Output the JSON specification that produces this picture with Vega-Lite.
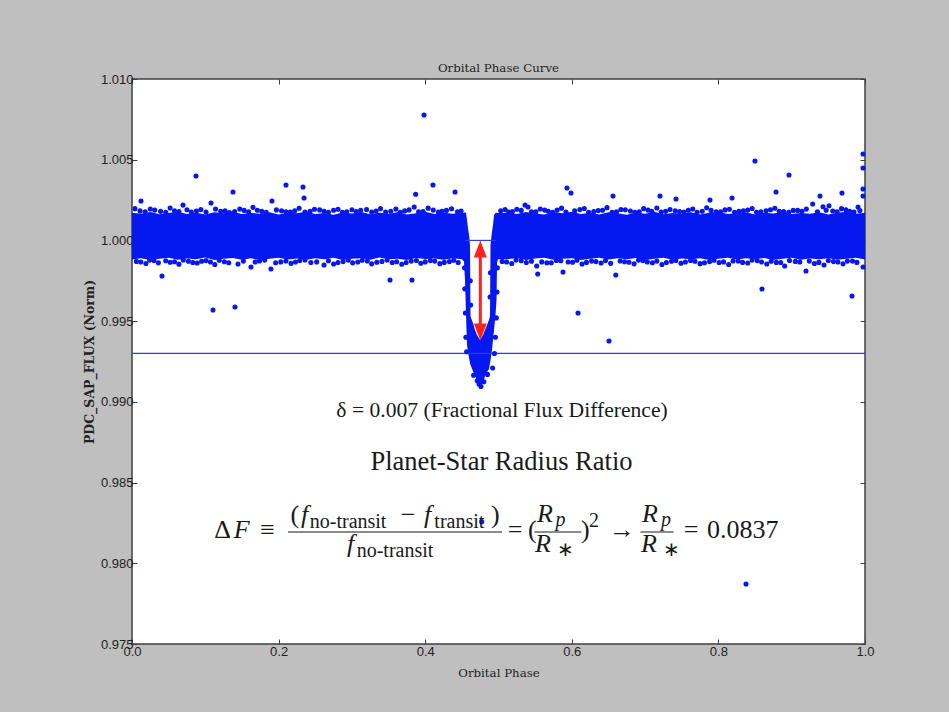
{
  "$schema": "https://vega.github.io/schema/vega-lite/v6.json",
  "width": 733,
  "height": 565,
  "autosize": "none",
  "padding": {"left": 132, "top": 79, "right": 84, "bottom": 68},
  "background": "#bfbfbf",
  "config": {
    "view": {"fill": "white", "stroke": "#404040", "strokeWidth": 1.5},
    "axis": {"grid": false, "domain": false, "labelFlush": false, "labelOverlap": false, "labelBound": false, "tickColor": "#404040", "tickWidth": 1, "labelColor": "#222222", "titleColor": "#222222"}
  },
  "title": {"text": "Orbital Phase Curve", "font": "DejaVu Serif", "fontSize": 11.8, "fontWeight": "normal", "color": "#222222", "offset": -11, "baseline": "alphabetic", "frame": "group"},
  "datasets": {
    "band": [
      {"x": 0.0, "y": 0.99882, "y2": 1.00172}, {"x": 0.0125, "y": 0.9989, "y2": 1.00165}, {"x": 0.025, "y": 0.99878, "y2": 1.00176}, {"x": 0.0375, "y": 0.99886, "y2": 1.00162},
      {"x": 0.05, "y": 0.99892, "y2": 1.0017}, {"x": 0.0625, "y": 0.9988, "y2": 1.00178}, {"x": 0.075, "y": 0.99888, "y2": 1.00164}, {"x": 0.0875, "y": 0.99883, "y2": 1.00171},
      {"x": 0.1, "y": 0.99894, "y2": 1.0016}, {"x": 0.1125, "y": 0.99879, "y2": 1.00174}, {"x": 0.125, "y": 0.99887, "y2": 1.00168}, {"x": 0.1375, "y": 0.99891, "y2": 1.00177},
      {"x": 0.15, "y": 0.99881, "y2": 1.00163}, {"x": 0.1625, "y": 0.99889, "y2": 1.0017}, {"x": 0.175, "y": 0.99877, "y2": 1.00166}, {"x": 0.1875, "y": 0.99886, "y2": 1.00175},
      {"x": 0.2, "y": 0.99893, "y2": 1.00161}, {"x": 0.2125, "y": 0.99882, "y2": 1.00172}, {"x": 0.225, "y": 0.99888, "y2": 1.00169}, {"x": 0.2375, "y": 0.9988, "y2": 1.00178},
      {"x": 0.25, "y": 0.9989, "y2": 1.00164}, {"x": 0.2625, "y": 0.99884, "y2": 1.0017}, {"x": 0.275, "y": 0.99892, "y2": 1.00159}, {"x": 0.2875, "y": 0.99878, "y2": 1.00173},
      {"x": 0.3, "y": 0.99886, "y2": 1.00167}, {"x": 0.3125, "y": 0.99889, "y2": 1.00176}, {"x": 0.325, "y": 0.99881, "y2": 1.00162}, {"x": 0.3375, "y": 0.99894, "y2": 1.00171},
      {"x": 0.35, "y": 0.99883, "y2": 1.00165}, {"x": 0.3625, "y": 0.99887, "y2": 1.00174}, {"x": 0.375, "y": 0.99879, "y2": 1.0016}, {"x": 0.3875, "y": 0.99891, "y2": 1.00169},
      {"x": 0.4, "y": 0.99885, "y2": 1.00177}, {"x": 0.4125, "y": 0.99888, "y2": 1.00163}, {"x": 0.425, "y": 0.9988, "y2": 1.00172}, {"x": 0.4375, "y": 0.9989, "y2": 1.00166},
      {"x": 0.4502, "y": 0.99884, "y2": 1.0017}, {"x": 0.4529, "y": 0.9987, "y2": 1.00172}, {"x": 0.4543, "y": 0.99755, "y2": 1.00175}, {"x": 0.4557, "y": 0.99538, "y2": 1.0017},
      {"x": 0.457, "y": 0.99352, "y2": 1.00127}, {"x": 0.4584, "y": 0.99309, "y2": 1.00077}, {"x": 0.4598, "y": 0.99272, "y2": 1.00034}, {"x": 0.4611, "y": 0.99241, "y2": 0.99972},
      {"x": 0.4618, "y": 0.9923, "y2": 0.9953}, {"x": 0.4625, "y": 0.9922, "y2": 0.99519}, {"x": 0.4652, "y": 0.9919, "y2": 0.99488}, {"x": 0.4679, "y": 0.9916, "y2": 0.99445},
      {"x": 0.4707, "y": 0.99135, "y2": 0.99414}, {"x": 0.4748, "y": 0.99104, "y2": 0.99383}, {"x": 0.4789, "y": 0.99115, "y2": 0.99414}, {"x": 0.4816, "y": 0.9916, "y2": 0.99445},
      {"x": 0.4843, "y": 0.99185, "y2": 0.99476}, {"x": 0.487, "y": 0.99204, "y2": 0.99507}, {"x": 0.4884, "y": 0.99241, "y2": 0.9953}, {"x": 0.4891, "y": 0.9926, "y2": 0.99972},
      {"x": 0.4898, "y": 0.9928, "y2": 1.00003}, {"x": 0.4911, "y": 0.99321, "y2": 1.00052}, {"x": 0.4925, "y": 0.99383, "y2": 1.00096}, {"x": 0.4939, "y": 0.99445, "y2": 1.00158},
      {"x": 0.4959, "y": 0.99538, "y2": 1.0017}, {"x": 0.4973, "y": 0.99631, "y2": 1.00172}, {"x": 0.498, "y": 0.99862, "y2": 1.0017}, {"x": 0.4993, "y": 0.99884, "y2": 1.0017},
      {"x": 0.5125, "y": 0.99884, "y2": 1.00171}, {"x": 0.525, "y": 0.9989, "y2": 1.00163}, {"x": 0.5375, "y": 0.99878, "y2": 1.00176}, {"x": 0.55, "y": 0.99888, "y2": 1.00167},
      {"x": 0.5625, "y": 0.99893, "y2": 1.0016}, {"x": 0.575, "y": 0.99881, "y2": 1.00174}, {"x": 0.5875, "y": 0.99886, "y2": 1.00169}, {"x": 0.6, "y": 0.9989, "y2": 1.00178},
      {"x": 0.6125, "y": 0.99879, "y2": 1.00164}, {"x": 0.625, "y": 0.99887, "y2": 1.00172}, {"x": 0.6375, "y": 0.99892, "y2": 1.00161}, {"x": 0.65, "y": 0.99882, "y2": 1.00175},
      {"x": 0.6625, "y": 0.99889, "y2": 1.00168}, {"x": 0.675, "y": 0.99884, "y2": 1.00159}, {"x": 0.6875, "y": 0.99891, "y2": 1.00173}, {"x": 0.7, "y": 0.99878, "y2": 1.00166},
      {"x": 0.7125, "y": 0.99886, "y2": 1.00177}, {"x": 0.725, "y": 0.99893, "y2": 1.00162}, {"x": 0.7375, "y": 0.99881, "y2": 1.0017}, {"x": 0.75, "y": 0.99888, "y2": 1.00165},
      {"x": 0.7625, "y": 0.99883, "y2": 1.00174}, {"x": 0.775, "y": 0.9989, "y2": 1.0016}, {"x": 0.7875, "y": 0.99879, "y2": 1.00171}, {"x": 0.8, "y": 0.99887, "y2": 1.00178},
      {"x": 0.8125, "y": 0.99892, "y2": 1.00164}, {"x": 0.825, "y": 0.99882, "y2": 1.00169}, {"x": 0.8375, "y": 0.99889, "y2": 1.00175}, {"x": 0.85, "y": 0.99884, "y2": 1.00161},
      {"x": 0.8625, "y": 0.99891, "y2": 1.00172}, {"x": 0.875, "y": 0.99878, "y2": 1.00167}, {"x": 0.8875, "y": 0.99886, "y2": 1.00176}, {"x": 0.9, "y": 0.99893, "y2": 1.00163},
      {"x": 0.9125, "y": 0.99881, "y2": 1.0017}, {"x": 0.925, "y": 0.99888, "y2": 1.00166}, {"x": 0.9375, "y": 0.99883, "y2": 1.00174}, {"x": 0.95, "y": 0.9989, "y2": 1.0016},
      {"x": 0.9625, "y": 0.9988, "y2": 1.00171}, {"x": 0.975, "y": 0.99887, "y2": 1.00177}, {"x": 0.9875, "y": 0.99892, "y2": 1.00165}, {"x": 1.0, "y": 0.99882, "y2": 1.00172}
    ],
    "pts": [
      {"x": 0.3984, "y": 1.00777}, {"x": 0.0873, "y": 1.00399}, {"x": 0.1378, "y": 1.003}, {"x": 0.2101, "y": 1.00343}, {"x": 0.2333, "y": 1.00331}, {"x": 0.2347, "y": 1.00263},
      {"x": 0.4106, "y": 1.00343}, {"x": 0.8499, "y": 1.00492}, {"x": 0.8963, "y": 1.00405}, {"x": 0.9686, "y": 1.00294}, {"x": 0.9973, "y": 1.00535}, {"x": 0.9973, "y": 1.00449},
      {"x": 0.9973, "y": 1.00319}, {"x": 0.9973, "y": 1.00275}, {"x": 0.9823, "y": 0.99656}, {"x": 0.9195, "y": 0.99811}, {"x": 0.1105, "y": 0.99569}, {"x": 0.1405, "y": 0.99588},
      {"x": 0.352, "y": 0.99755}, {"x": 0.382, "y": 0.99755}, {"x": 0.6085, "y": 0.9955}, {"x": 0.6508, "y": 0.99377}, {"x": 0.8595, "y": 0.99699}, {"x": 0.8377, "y": 0.97872},
      {"x": 0.0409, "y": 0.9978}, {"x": 0.4771, "y": 0.98258}, {"x": 0.0123, "y": 1.00244}, {"x": 0.0696, "y": 1.00219}, {"x": 0.1078, "y": 1.00232}, {"x": 0.191, "y": 1.00244},
      {"x": 0.387, "y": 1.00286}, {"x": 0.4407, "y": 1.003}, {"x": 0.5934, "y": 1.00325}, {"x": 0.5989, "y": 1.00294}, {"x": 0.6562, "y": 1.00275}, {"x": 0.7203, "y": 1.00275},
      {"x": 0.7422, "y": 1.00257}, {"x": 0.7885, "y": 1.0025}, {"x": 0.8186, "y": 1.00263}, {"x": 0.8786, "y": 1.003}, {"x": 0.9386, "y": 1.00275}, {"x": 0.9286, "y": 1.00226},
      {"x": 0.5362, "y": 1.00219}, {"x": 0.5402, "y": 1.00207}, {"x": 0.9427, "y": 1.00209}, {"x": 0.9509, "y": 1.00215}, {"x": 0.9905, "y": 1.00207},
      {"x": 0.004, "y": 1.00197}, {"x": 0.018, "y": 1.00178}, {"x": 0.031, "y": 1.00188}, {"x": 0.046, "y": 1.00174}, {"x": 0.058, "y": 1.00184}, {"x": 0.081, "y": 1.00176},
      {"x": 0.094, "y": 1.00191}, {"x": 0.121, "y": 1.0018}, {"x": 0.133, "y": 1.00173}, {"x": 0.147, "y": 1.00194}, {"x": 0.159, "y": 1.00178}, {"x": 0.171, "y": 1.00187},
      {"x": 0.183, "y": 1.00174}, {"x": 0.204, "y": 1.00184}, {"x": 0.216, "y": 1.00176}, {"x": 0.228, "y": 1.00199}, {"x": 0.243, "y": 1.0018}, {"x": 0.256, "y": 1.00189},
      {"x": 0.268, "y": 1.00175}, {"x": 0.281, "y": 1.00193}, {"x": 0.293, "y": 1.00178}, {"x": 0.3001, "y": 1.0019}, {"x": 0.312, "y": 1.00186}, {"x": 0.327, "y": 1.00176},
      {"x": 0.339, "y": 1.00197}, {"x": 0.353, "y": 1.00181}, {"x": 0.366, "y": 1.00174}, {"x": 0.378, "y": 1.00189}, {"x": 0.391, "y": 1.00178}, {"x": 0.404, "y": 1.002},
      {"x": 0.418, "y": 1.00176}, {"x": 0.429, "y": 1.00186}, {"x": 0.444, "y": 1.00178}, {"x": 0.503, "y": 1.00184}, {"x": 0.514, "y": 1.00176}, {"x": 0.525, "y": 1.00193},
      {"x": 0.551, "y": 1.00178}, {"x": 0.563, "y": 1.00188}, {"x": 0.574, "y": 1.00174}, {"x": 0.586, "y": 1.002}, {"x": 0.611, "y": 1.00191}, {"x": 0.623, "y": 1.00175},
      {"x": 0.636, "y": 1.00185}, {"x": 0.648, "y": 1.00203}, {"x": 0.661, "y": 1.00178}, {"x": 0.673, "y": 1.0019}, {"x": 0.686, "y": 1.00174}, {"x": 0.698, "y": 1.00197},
      {"x": 0.709, "y": 1.00181}, {"x": 0.722, "y": 1.00176}, {"x": 0.734, "y": 1.00192}, {"x": 0.747, "y": 1.00179}, {"x": 0.759, "y": 1.00187}, {"x": 0.771, "y": 1.00174},
      {"x": 0.784, "y": 1.00202}, {"x": 0.797, "y": 1.00178}, {"x": 0.809, "y": 1.00189}, {"x": 0.822, "y": 1.00175}, {"x": 0.834, "y": 1.00184}, {"x": 0.846, "y": 1.00198},
      {"x": 0.858, "y": 1.00177}, {"x": 0.871, "y": 1.0019}, {"x": 0.883, "y": 1.00181}, {"x": 0.896, "y": 1.00174}, {"x": 0.908, "y": 1.00186}, {"x": 0.962, "y": 1.00178},
      {"x": 0.974, "y": 1.00189}, {"x": 0.985, "y": 1.00176},
      {"x": 0.011, "y": 1.00183}, {"x": 0.025, "y": 1.00195}, {"x": 0.039, "y": 1.0018}, {"x": 0.052, "y": 1.00201}, {"x": 0.064, "y": 1.00179}, {"x": 0.075, "y": 1.0019},
      {"x": 0.088, "y": 1.00182}, {"x": 0.101, "y": 1.00176}, {"x": 0.114, "y": 1.00195}, {"x": 0.127, "y": 1.00183}, {"x": 0.14, "y": 1.00179}, {"x": 0.153, "y": 1.00186},
      {"x": 0.165, "y": 1.00205}, {"x": 0.177, "y": 1.0018}, {"x": 0.197, "y": 1.00189}, {"x": 0.21, "y": 1.00178}, {"x": 0.222, "y": 1.00184}, {"x": 0.236, "y": 1.00176},
      {"x": 0.249, "y": 1.00193}, {"x": 0.262, "y": 1.00181}, {"x": 0.275, "y": 1.00187}, {"x": 0.287, "y": 1.00175}, {"x": 0.306, "y": 1.00179}, {"x": 0.32, "y": 1.00192},
      {"x": 0.333, "y": 1.00182}, {"x": 0.346, "y": 1.00176}, {"x": 0.36, "y": 1.00194}, {"x": 0.372, "y": 1.00183}, {"x": 0.385, "y": 1.00207}, {"x": 0.397, "y": 1.00179},
      {"x": 0.411, "y": 1.00188}, {"x": 0.423, "y": 1.00181}, {"x": 0.436, "y": 1.00196}, {"x": 0.449, "y": 1.00182}, {"x": 0.509, "y": 1.00191}, {"x": 0.519, "y": 1.00179},
      {"x": 0.531, "y": 1.00186}, {"x": 0.545, "y": 1.00177}, {"x": 0.557, "y": 1.00195}, {"x": 0.568, "y": 1.00181}, {"x": 0.58, "y": 1.00188}, {"x": 0.592, "y": 1.00176},
      {"x": 0.604, "y": 1.00183}, {"x": 0.617, "y": 1.00198}, {"x": 0.63, "y": 1.00179}, {"x": 0.642, "y": 1.00187}, {"x": 0.655, "y": 1.00175}, {"x": 0.667, "y": 1.00192},
      {"x": 0.68, "y": 1.00182}, {"x": 0.692, "y": 1.00177}, {"x": 0.704, "y": 1.00188}, {"x": 0.716, "y": 1.00201}, {"x": 0.728, "y": 1.0018}, {"x": 0.741, "y": 1.00184},
      {"x": 0.753, "y": 1.00176}, {"x": 0.765, "y": 1.00195}, {"x": 0.778, "y": 1.00181}, {"x": 0.79, "y": 1.00186}, {"x": 0.803, "y": 1.00177}, {"x": 0.815, "y": 1.00193},
      {"x": 0.828, "y": 1.0018}, {"x": 0.84, "y": 1.00188}, {"x": 0.852, "y": 1.00175}, {"x": 0.865, "y": 1.00184}, {"x": 0.877, "y": 1.00199}, {"x": 0.889, "y": 1.00179},
      {"x": 0.902, "y": 1.00186}, {"x": 0.914, "y": 1.00181}, {"x": 0.92, "y": 1.00194}, {"x": 0.935, "y": 1.00178}, {"x": 0.947, "y": 1.00187}, {"x": 0.956, "y": 1.00182},
      {"x": 0.968, "y": 1.00197}, {"x": 0.979, "y": 1.0018}, {"x": 0.993, "y": 1.00185},
      {"x": 0.006, "y": 0.9987}, {"x": 0.019, "y": 0.99857}, {"x": 0.03, "y": 0.99875}, {"x": 0.052, "y": 0.99865}, {"x": 0.064, "y": 0.99853}, {"x": 0.077, "y": 0.99871},
      {"x": 0.089, "y": 0.9986}, {"x": 0.101, "y": 0.99875}, {"x": 0.113, "y": 0.99851}, {"x": 0.126, "y": 0.99868}, {"x": 0.1446, "y": 0.99854}, {"x": 0.1623, "y": 0.99835},
      {"x": 0.174, "y": 0.99873}, {"x": 0.1896, "y": 0.99823}, {"x": 0.203, "y": 0.99867}, {"x": 0.217, "y": 0.99858}, {"x": 0.229, "y": 0.99876}, {"x": 0.244, "y": 0.99863},
      {"x": 0.2619, "y": 0.99848}, {"x": 0.275, "y": 0.99854}, {"x": 0.288, "y": 0.99869}, {"x": 0.301, "y": 0.99861}, {"x": 0.314, "y": 0.99877}, {"x": 0.327, "y": 0.99855},
      {"x": 0.341, "y": 0.9987}, {"x": 0.355, "y": 0.99863}, {"x": 0.368, "y": 0.99852}, {"x": 0.381, "y": 0.99872}, {"x": 0.394, "y": 0.99859}, {"x": 0.407, "y": 0.99875},
      {"x": 0.42, "y": 0.99856}, {"x": 0.433, "y": 0.99869}, {"x": 0.445, "y": 0.99863}, {"x": 0.505, "y": 0.9987}, {"x": 0.518, "y": 0.99857}, {"x": 0.531, "y": 0.99874},
      {"x": 0.5521, "y": 0.99842}, {"x": 0.5535, "y": 0.99792}, {"x": 0.566, "y": 0.99861}, {"x": 0.579, "y": 0.99876}, {"x": 0.588, "y": 0.99804}, {"x": 0.601, "y": 0.99865},
      {"x": 0.614, "y": 0.99854}, {"x": 0.627, "y": 0.99872}, {"x": 0.64, "y": 0.9986}, {"x": 0.66, "y": 0.99786}, {"x": 0.672, "y": 0.99868}, {"x": 0.685, "y": 0.99855},
      {"x": 0.697, "y": 0.99875}, {"x": 0.71, "y": 0.99862}, {"x": 0.723, "y": 0.99851}, {"x": 0.736, "y": 0.99871}, {"x": 0.749, "y": 0.99859}, {"x": 0.762, "y": 0.99876},
      {"x": 0.775, "y": 0.99856}, {"x": 0.788, "y": 0.99869}, {"x": 0.801, "y": 0.99863}, {"x": 0.814, "y": 0.99851}, {"x": 0.827, "y": 0.99873}, {"x": 0.84, "y": 0.9986},
      {"x": 0.853, "y": 0.99875}, {"x": 0.866, "y": 0.99854}, {"x": 0.879, "y": 0.99864}, {"x": 0.8904, "y": 0.99842}, {"x": 0.905, "y": 0.9987}, {"x": 0.9441, "y": 0.99848},
      {"x": 0.931, "y": 0.99857}, {"x": 0.957, "y": 0.99869}, {"x": 0.97, "y": 0.99855}, {"x": 0.983, "y": 0.99872}, {"x": 0.9973, "y": 0.99835},
      {"x": 0.012, "y": 0.99866}, {"x": 0.024, "y": 0.99878}, {"x": 0.036, "y": 0.99861}, {"x": 0.046, "y": 0.99874}, {"x": 0.058, "y": 0.99868}, {"x": 0.07, "y": 0.99879},
      {"x": 0.083, "y": 0.99863}, {"x": 0.095, "y": 0.99871}, {"x": 0.107, "y": 0.99866}, {"x": 0.119, "y": 0.99877}, {"x": 0.132, "y": 0.99862}, {"x": 0.152, "y": 0.99872},
      {"x": 0.168, "y": 0.99866}, {"x": 0.181, "y": 0.99878}, {"x": 0.196, "y": 0.99862}, {"x": 0.21, "y": 0.99873}, {"x": 0.223, "y": 0.99866}, {"x": 0.236, "y": 0.99879},
      {"x": 0.252, "y": 0.99867}, {"x": 0.268, "y": 0.99874}, {"x": 0.281, "y": 0.99863}, {"x": 0.295, "y": 0.99878}, {"x": 0.308, "y": 0.99866}, {"x": 0.321, "y": 0.99873},
      {"x": 0.334, "y": 0.99865}, {"x": 0.348, "y": 0.99879}, {"x": 0.361, "y": 0.99868}, {"x": 0.374, "y": 0.99863}, {"x": 0.388, "y": 0.99876}, {"x": 0.4, "y": 0.99867},
      {"x": 0.413, "y": 0.99872}, {"x": 0.426, "y": 0.99864}, {"x": 0.439, "y": 0.99877}, {"x": 0.511, "y": 0.99866}, {"x": 0.524, "y": 0.99878}, {"x": 0.538, "y": 0.99863},
      {"x": 0.545, "y": 0.99871}, {"x": 0.559, "y": 0.99867}, {"x": 0.572, "y": 0.99862}, {"x": 0.585, "y": 0.99874}, {"x": 0.595, "y": 0.99866}, {"x": 0.607, "y": 0.99877},
      {"x": 0.62, "y": 0.99864}, {"x": 0.633, "y": 0.99869}, {"x": 0.646, "y": 0.99875}, {"x": 0.653, "y": 0.99858}, {"x": 0.666, "y": 0.99873}, {"x": 0.678, "y": 0.99865},
      {"x": 0.691, "y": 0.99878}, {"x": 0.703, "y": 0.99867}, {"x": 0.716, "y": 0.99872}, {"x": 0.729, "y": 0.99863}, {"x": 0.742, "y": 0.99876}, {"x": 0.755, "y": 0.99866},
      {"x": 0.768, "y": 0.99871}, {"x": 0.781, "y": 0.99862}, {"x": 0.794, "y": 0.99877}, {"x": 0.807, "y": 0.99867}, {"x": 0.82, "y": 0.99873}, {"x": 0.833, "y": 0.99864},
      {"x": 0.846, "y": 0.99878}, {"x": 0.859, "y": 0.99866}, {"x": 0.872, "y": 0.99871}, {"x": 0.885, "y": 0.99863}, {"x": 0.897, "y": 0.99876}, {"x": 0.911, "y": 0.99867},
      {"x": 0.924, "y": 0.99872}, {"x": 0.937, "y": 0.99864}, {"x": 0.95, "y": 0.99876}, {"x": 0.963, "y": 0.99866}, {"x": 0.976, "y": 0.99872}, {"x": 0.989, "y": 0.99864},
      {"x": 0.4735, "y": 0.9911}, {"x": 0.4761, "y": 0.99095}, {"x": 0.471, "y": 0.9913}, {"x": 0.48, "y": 0.99125}, {"x": 0.466, "y": 0.99165}, {"x": 0.485, "y": 0.9917},
      {"x": 0.4536, "y": 0.9983}, {"x": 0.454, "y": 0.997}, {"x": 0.4548, "y": 0.9955}, {"x": 0.4555, "y": 0.994}, {"x": 0.4565, "y": 0.9931},
      {"x": 0.4985, "y": 0.9983}, {"x": 0.498, "y": 0.9968}, {"x": 0.497, "y": 0.9952}, {"x": 0.4958, "y": 0.994}, {"x": 0.4945, "y": 0.993}, {"x": 0.492, "y": 0.9921},
      {"x": 0.462, "y": 0.996}, {"x": 0.4615, "y": 0.9975}, {"x": 0.4885, "y": 0.9965}, {"x": 0.489, "y": 0.998}
    ],
    "hlines": [
      {"x": 0.0, "x2": 1.0, "y": 0.993},
      {"x": 0.4543, "x2": 0.4966, "y": 1.0}
    ],
    "shaft": [{"x": 0.4752, "y": 0.9996, "y2": 0.9942}],
    "heads": [
      {"x": 0.4752, "y": 1.0, "dir": "up"},
      {"x": 0.4752, "y": 0.9938, "dir": "down"}
    ],
    "bars": [
      {"x": 0.21282, "x2": 0.50477, "y": 0.981938},
      {"x": 0.54911, "x2": 0.6131, "y": 0.981938},
      {"x": 0.69359, "x2": 0.73888, "y": 0.981938}
    ],
    "t_reg_left": [
      {"t": "Δ", "x": 0.1121, "y": 0.98157},
      {"t": "(", "x": 0.2164, "y": 0.9825},
      {"t": ")", "x": 0.4898, "y": 0.9825},
      {"t": "(", "x": 0.5402, "y": 0.98157},
      {"t": ")", "x": 0.6126, "y": 0.98157},
      {"t": "0.0837", "x": 0.7844, "y": 0.98157}
    ],
    "t_reg_center": [
      {"t": "≡", "x": 0.1851, "y": 0.98157},
      {"t": "−", "x": 0.3765, "y": 0.9825},
      {"t": "=", "x": 0.5225, "y": 0.98157},
      {"t": "→", "x": 0.6685, "y": 0.98157},
      {"t": "=", "x": 0.7626, "y": 0.98157}
    ],
    "t_ital": [
      {"t": "F", "x": 0.1389, "y": 0.98157},
      {"t": "f", "x": 0.2305, "y": 0.9825},
      {"t": "f", "x": 0.3985, "y": 0.9825},
      {"t": "f", "x": 0.2933, "y": 0.9807},
      {"t": "R", "x": 0.5525, "y": 0.98256},
      {"t": "R", "x": 0.5498, "y": 0.9807},
      {"t": "R", "x": 0.6958, "y": 0.98256},
      {"t": "R", "x": 0.6944, "y": 0.9807}
    ],
    "t_sub": [
      {"t": "no-transit", "x": 0.2425, "y": 0.98219},
      {"t": "transit", "x": 0.4125, "y": 0.98219},
      {"t": "no-transit", "x": 0.3065, "y": 0.98039},
      {"t": "2", "x": 0.6235, "y": 0.98225},
      {"t": "∗", "x": 0.5798, "y": 0.98045},
      {"t": "∗", "x": 0.7244, "y": 0.98045}
    ],
    "t_sub_ital": [
      {"t": "p", "x": 0.5778, "y": 0.98231},
      {"t": "p", "x": 0.7217, "y": 0.98231}
    ],
    "t_delta": [{"t": "δ = 0.007 (Fractional Flux Difference)", "x": 0.5048, "y": 0.98908}],
    "t_planet": [{"t": "Planet-Star Radius Ratio", "x": 0.5041, "y": 0.985779}]
  },
  "encoding": {
    "x": {"field": "x", "type": "quantitative", "scale": {"domain": [0, 1], "nice": false, "zero": false}, "axis": null},
    "y": {"field": "y", "type": "quantitative", "scale": {"domain": [0.975, 1.01], "nice": false, "zero": false}, "axis": null}
  },
  "layer": [
    {
      "data": {"name": "band"},
      "mark": {"type": "area", "color": "#0618f0", "opacity": 1, "interpolate": "linear"},
      "encoding": {
        "x": {"field": "x", "type": "quantitative", "scale": {"domain": [0, 1], "nice": false, "zero": false},
          "axis": {"orient": "bottom", "values": [0, 0.2, 0.4, 0.6, 0.8, 1.0], "format": ".1f", "labelFont": "Liberation Sans", "labelFontSize": 13, "tickSize": -5, "labelPadding": 6,
            "title": "Orbital Phase", "titleFont": "DejaVu Serif", "titleFontSize": 11.8, "titleFontWeight": "normal", "titlePadding": 9}},
        "y": {"field": "y", "type": "quantitative", "scale": {"domain": [0.975, 1.01], "nice": false, "zero": false},
          "axis": {"orient": "left", "values": [0.975, 0.98, 0.985, 0.99, 0.995, 1.0, 1.005, 1.01], "format": ".3f", "labelFont": "Liberation Sans", "labelFontSize": 13, "tickSize": -5, "labelPadding": 4,
            "title": "PDC_SAP_FLUX (Norm)", "titleFont": "DejaVu Serif", "titleFontSize": 12.5, "titleFontWeight": "bold", "titlePadding": 4}},
        "y2": {"field": "y2"}
      }
    },
    {
      "data": {"name": "hlines"},
      "mark": {"type": "rule", "color": "#2a3cf5", "strokeWidth": 1.2},
      "encoding": {
        "x": {"field": "x", "type": "quantitative", "scale": {"domain": [0, 1], "nice": false, "zero": false},
          "axis": {"orient": "top", "values": [0, 0.2, 0.4, 0.6, 0.8, 1.0], "labels": false, "tickSize": -5, "title": null}},
        "x2": {"field": "x2"},
        "y": {"field": "y", "type": "quantitative", "scale": {"domain": [0.975, 1.01], "nice": false, "zero": false},
          "axis": {"orient": "right", "values": [0.975, 0.98, 0.985, 0.99, 0.995, 1.0, 1.005, 1.01], "labels": false, "tickSize": -5, "title": null}}
      }
    },
    {
      "data": {"name": "pts"},
      "mark": {"type": "point", "filled": true, "shape": "circle", "size": 26, "color": "#0618f0", "opacity": 1, "strokeWidth": 0}
    },
    {
      "data": {"name": "shaft"},
      "mark": {"type": "rule", "color": "#ff2020", "strokeWidth": 3},
      "encoding": {"y2": {"field": "y2"}}
    },
    {
      "data": {"name": "heads"},
      "mark": {"type": "point", "filled": true, "size": 289, "color": "#ff2020", "opacity": 1, "strokeWidth": 0},
      "encoding": {
        "shape": {"field": "dir", "type": "nominal", "scale": {"domain": ["up", "down"], "range": ["M0,0L0.765,2L-0.765,2Z", "M0,0L0.765,-2L-0.765,-2Z"]}, "legend": null}
      }
    },
    {
      "data": {"name": "bars"},
      "mark": {"type": "rule", "color": "#1a1a1a", "strokeWidth": 1.1},
      "encoding": {"x2": {"field": "x2"}}
    },
    {
      "data": {"name": "t_reg_left"},
      "mark": {"type": "text", "font": "Liberation Serif", "fontSize": 26, "align": "left", "baseline": "alphabetic", "color": "#1a1a1a"},
      "encoding": {"text": {"field": "t"}}
    },
    {
      "data": {"name": "t_reg_center"},
      "mark": {"type": "text", "font": "Liberation Serif", "fontSize": 26, "align": "center", "baseline": "alphabetic", "color": "#1a1a1a"},
      "encoding": {"text": {"field": "t"}}
    },
    {
      "data": {"name": "t_ital"},
      "mark": {"type": "text", "font": "Liberation Serif", "fontSize": 26, "fontStyle": "italic", "align": "left", "baseline": "alphabetic", "color": "#1a1a1a"},
      "encoding": {"text": {"field": "t"}}
    },
    {
      "data": {"name": "t_sub"},
      "mark": {"type": "text", "font": "Liberation Serif", "fontSize": 20, "align": "left", "baseline": "alphabetic", "color": "#1a1a1a"},
      "encoding": {"text": {"field": "t"}}
    },
    {
      "data": {"name": "t_sub_ital"},
      "mark": {"type": "text", "font": "Liberation Serif", "fontSize": 20, "fontStyle": "italic", "align": "left", "baseline": "alphabetic", "color": "#1a1a1a"},
      "encoding": {"text": {"field": "t"}}
    },
    {
      "data": {"name": "t_delta"},
      "mark": {"type": "text", "font": "Liberation Serif", "fontSize": 21.6, "align": "center", "baseline": "alphabetic", "color": "#1a1a1a"},
      "encoding": {"text": {"field": "t"}}
    },
    {
      "data": {"name": "t_planet"},
      "mark": {"type": "text", "font": "Liberation Serif", "fontSize": 26.5, "align": "center", "baseline": "alphabetic", "color": "#1a1a1a"},
      "encoding": {"text": {"field": "t"}}
    }
  ],
  "resolve": {"axis": {"x": "independent", "y": "independent"}}
}
